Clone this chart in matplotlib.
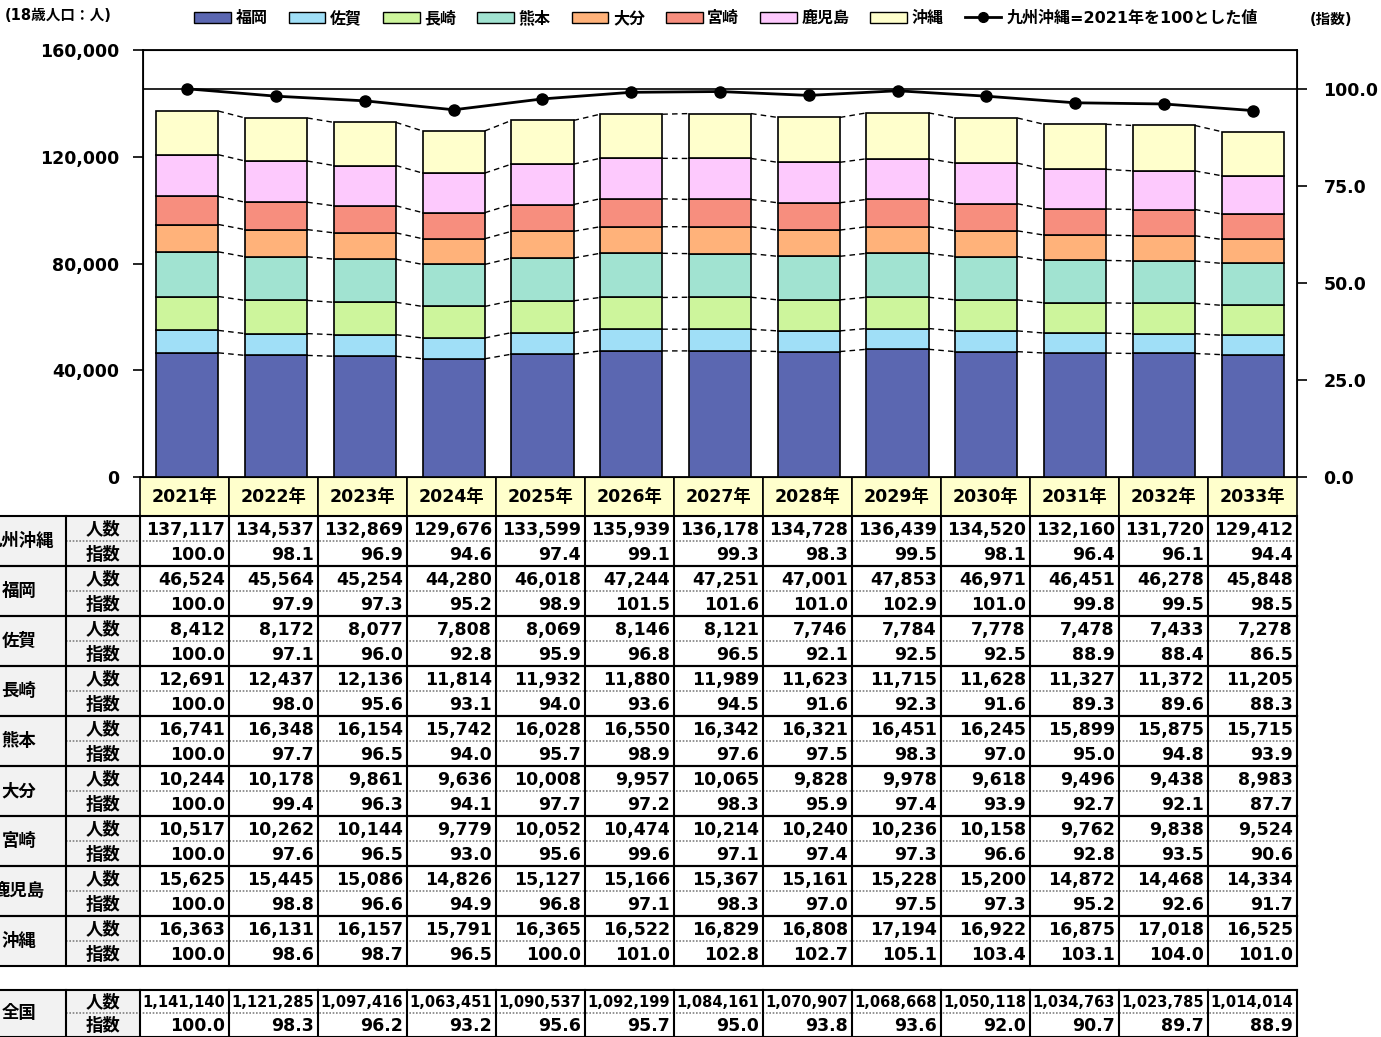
import numpy as np
import matplotlib
matplotlib.use('Agg')
import matplotlib.pyplot as plt
from matplotlib.patches import Rectangle, Patch
from matplotlib.lines import Line2D

plt.rcParams['font.family'] = ['DejaVu Sans', 'Noto Sans CJK JP']
plt.rcParams['font.weight'] = 'bold'

#====================1======================
#               data
#===========================================
years = [2021, 2022, 2023, 2024, 2025, 2026, 2027, 2028, 2029, 2030, 2031, 2032, 2033]
year_labels = [f"{y}年" for y in years]

total     = [137117, 134537, 132869, 129676, 133599, 135939, 136178, 134728, 136439, 134520, 132160, 131720, 129412]
total_idx = [100.0, 98.1, 96.9, 94.6, 97.4, 99.1, 99.3, 98.3, 99.5, 98.1, 96.4, 96.1, 94.4]
fukuoka     = [46524, 45564, 45254, 44280, 46018, 47244, 47251, 47001, 47853, 46971, 46451, 46278, 45848]
fukuoka_idx = [100.0, 97.9, 97.3, 95.2, 98.9, 101.5, 101.6, 101.0, 102.9, 101.0, 99.8, 99.5, 98.5]
saga     = [8412, 8172, 8077, 7808, 8069, 8146, 8121, 7746, 7784, 7778, 7478, 7433, 7278]
saga_idx = [100.0, 97.1, 96.0, 92.8, 95.9, 96.8, 96.5, 92.1, 92.5, 92.5, 88.9, 88.4, 86.5]
nagasaki     = [12691, 12437, 12136, 11814, 11932, 11880, 11989, 11623, 11715, 11628, 11327, 11372, 11205]
nagasaki_idx = [100.0, 98.0, 95.6, 93.1, 94.0, 93.6, 94.5, 91.6, 92.3, 91.6, 89.3, 89.6, 88.3]
kumamoto     = [16741, 16348, 16154, 15742, 16028, 16550, 16342, 16321, 16451, 16245, 15899, 15875, 15715]
kumamoto_idx = [100.0, 97.7, 96.5, 94.0, 95.7, 98.9, 97.6, 97.5, 98.3, 97.0, 95.0, 94.8, 93.9]
oita     = [10244, 10178, 9861, 9636, 10008, 9957, 10065, 9828, 9978, 9618, 9496, 9438, 8983]
oita_idx = [100.0, 99.4, 96.3, 94.1, 97.7, 97.2, 98.3, 95.9, 97.4, 93.9, 92.7, 92.1, 87.7]
miyazaki     = [10517, 10262, 10144, 9779, 10052, 10474, 10214, 10240, 10236, 10158, 9762, 9838, 9524]
miyazaki_idx = [100.0, 97.6, 96.5, 93.0, 95.6, 99.6, 97.1, 97.4, 97.3, 96.6, 92.8, 93.5, 90.6]
kagoshima     = [15625, 15445, 15086, 14826, 15127, 15166, 15367, 15161, 15228, 15200, 14872, 14468, 14334]
kagoshima_idx = [100.0, 98.8, 96.6, 94.9, 96.8, 97.1, 98.3, 97.0, 97.5, 97.3, 95.2, 92.6, 91.7]
okinawa     = [16363, 16131, 16157, 15791, 16365, 16522, 16829, 16808, 17194, 16922, 16875, 17018, 16525]
okinawa_idx = [100.0, 98.6, 98.7, 96.5, 100.0, 101.0, 102.8, 102.7, 105.1, 103.4, 103.1, 104.0, 101.0]
zenkoku     = [1141140, 1121285, 1097416, 1063451, 1090537, 1092199, 1084161, 1070907, 1068668, 1050118, 1034763, 1023785, 1014014]
zenkoku_idx = [100.0, 98.3, 96.2, 93.2, 95.6, 95.7, 95.0, 93.8, 93.6, 92.0, 90.7, 89.7, 88.9]

regions = ['福岡', '佐賀', '長崎', '熊本', '大分', '宮崎', '鹿児島', '沖縄']
region_vals = [fukuoka, saga, nagasaki, kumamoto, oita, miyazaki, kagoshima, okinawa]
region_idx = [fukuoka_idx, saga_idx, nagasaki_idx, kumamoto_idx, oita_idx,
              miyazaki_idx, kagoshima_idx, okinawa_idx]
colors = ['#5B67B1', '#A0DFF7', '#CDF59C', '#A1E3D1', '#FFB27A', '#F78E7E', '#FDC9FD', '#FFFFCC']
line_label = '九州沖縄=2021年を100とした値'

#====================2======================
#          figure / chart
#===========================================
W, H = 1381, 1037
fig = plt.figure(figsize=(W/100, H/100), dpi=100)

tb = fig.add_axes([0, 0, 1, 1])
tb.set_xlim(0, W); tb.set_ylim(H, 0); tb.axis('off')

ax = fig.add_axes([143/W, (H-477)/H, (1297-143)/W, (477-50)/H])
x = np.arange(len(years))
bw = 0.7
bottom = np.zeros(len(years))
levels = []
for name, vals, c in zip(regions, region_vals, colors):
    ax.bar(x, vals, bw, bottom=bottom, color=c, edgecolor='black', linewidth=1.2, zorder=3)
    bottom = bottom + np.array(vals)
    levels.append(bottom.copy())
for lv in levels:
    for i in range(len(x)-1):
        ax.plot([x[i]+bw/2, x[i+1]-bw/2], [lv[i], lv[i+1]], ls=(0, (4, 3)),
                color='black', lw=1, zorder=2)
ax.set_xlim(-0.5, len(x)-0.5)
ax.set_ylim(0, 160000)
ax.set_yticks([0, 40000, 80000, 120000, 160000])
ax.yaxis.set_major_formatter(lambda v, p: f'{int(v):,}')
ax.set_xticks([])
ax.tick_params(axis='y', direction='out', length=7, width=1.2, labelsize=12.5, pad=10)
for s in ax.spines.values():
    s.set_linewidth(1.3)

ax2 = ax.twinx()
ax2.set_ylim(0, 110)
ax2.set_yticks([0, 25, 50, 75, 100])
ax2.yaxis.set_major_formatter(lambda v, p: f'{v:.1f}')
ax2.tick_params(axis='y', direction='out', length=7, width=1.2, labelsize=12.5, pad=12)
ax2.axhline(100, color='black', lw=1.2)
ax2.plot(x, total_idx, color='black', lw=2, marker='o', ms=8)

handles = [Patch(facecolor=c, edgecolor='black', linewidth=1) for c in colors]
handles.append(Line2D([], [], color='black', lw=2, marker='o', ms=7))
fig.legend(handles, regions + [line_label], loc='center', ncol=9,
           bbox_to_anchor=(726/W, 1-18/H), frameon=False, fontsize=11.5,
           handlelength=2.3, handleheight=0.75, handletextpad=0.3, columnspacing=1.3)
tb.text(5, 16, '(18歳人口：人)', fontsize=10.5, va='center', ha='left')
tb.text(1310, 20, '(指数)', fontsize=10.5, va='center', ha='left')

#====================3======================
#          table
#===========================================
xe = np.linspace(140, 1297, len(years)+1)

# header
for i, lab in enumerate(year_labels):
    tb.add_patch(Rectangle((xe[i], 477), xe[i+1]-xe[i], 39, fc='#FFFFCC', ec='black', lw=1.2))
    tb.text((xe[i]+xe[i+1])/2, 497, lab, ha='center', va='center', fontsize=12.5)

def draw_block(ytop, rh, name, nums, idx, numsize):
    tb.add_patch(Rectangle((-30, ytop), 170, 2*rh, fc='#F2F2F2', ec='none'))
    tb.text(19, ytop+rh, name, ha='center', va='center', fontsize=12.5)
    tb.text(103, ytop+rh/2+1, '人数', ha='center', va='center', fontsize=12.5)
    tb.text(103, ytop+1.5*rh+1, '指数', ha='center', va='center', fontsize=12.5)
    for i in range(len(years)):
        tb.text(xe[i+1]-4, ytop+rh/2+1, f'{nums[i]:,}', ha='right', va='center', fontsize=numsize)
        tb.text(xe[i+1]-4, ytop+1.5*rh+1, f'{idx[i]:.1f}', ha='right', va='center', fontsize=12.5)
    tb.plot([0, 1297], [ytop, ytop], color='black', lw=1.5)
    tb.plot([0, 1297], [ytop+2*rh, ytop+2*rh], color='black', lw=1.5)
    tb.plot([66, 1297], [ytop+rh, ytop+rh], color='#808080', lw=1.2, ls=(0, (1, 1)))
    for xv in [66] + list(xe):
        tb.plot([xv, xv], [ytop, ytop+2*rh], color='black', lw=1.5)

blocks = [('九州沖縄', total, total_idx)] + list(zip(regions, region_vals, region_idx))
rh = (966-516)/18
for k, (name, nums, idx) in enumerate(blocks):
    draw_block(516 + k*2*rh, rh, name, nums, idx, 12.5)
draw_block(990, 23.3, '全国', zenkoku, zenkoku_idx, 10.5)

fig.savefig('out.png', dpi=100)
